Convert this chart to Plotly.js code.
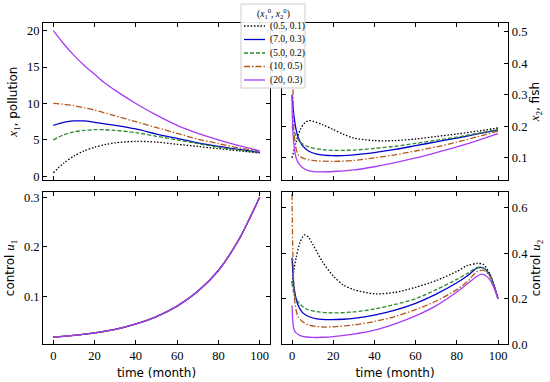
<!DOCTYPE html>
<html>
<head>
<meta charset="utf-8">
<script src="https://cdn.plot.ly/plotly-3.0.1.min.js"></script>
<style>html,body{margin:0;padding:0;background:#fff;}#chart{width:550px;height:382px;}</style>
</head>
<body>
<div id="chart"></div>
<script>
// ---------- data ----------
const seriesNames = ["(0.5, 0.1)", "(7.0, 0.3)", "(5.0, 0.2)", "(10, 0.5)", "(20, 0.3)"];

// x1 pollution
const tX1 = [0, 5, 10, 15, 20, 25, 30, 40, 50, 60, 70, 80, 90, 100];
const x1_black   = [0.5, 1.8, 2.8, 3.5, 4.0, 4.35, 4.6, 4.8, 4.7, 4.4, 4.1, 3.8, 3.5, 3.2];
const x1_blue    = [7.0, 7.4, 7.6, 7.6, 7.4, 7.2, 7.0, 6.5, 5.8, 5.2, 4.6, 4.1, 3.7, 3.3];
const x1_green   = [5.0, 5.7, 6.1, 6.3, 6.4, 6.4, 6.3, 6.0, 5.5, 5.0, 4.5, 4.0, 3.6, 3.3];
const x1_brown   = [10.0, 9.9, 9.7, 9.4, 9.1, 8.7, 8.3, 7.5, 6.7, 5.9, 5.1, 4.5, 3.9, 3.5];
const x1_magenta = [20.0, 18.2, 16.6, 15.2, 14.0, 12.8, 11.8, 10.0, 8.4, 7.0, 5.9, 5.0, 4.2, 3.5];

// x2 fish
const tX2_black   = [0, 2, 4, 6, 8, 10, 15, 20, 25, 30, 40, 50, 60, 70, 80, 90, 100];
const x2_black    = [0.1, 0.15, 0.19, 0.21, 0.218, 0.217, 0.205, 0.19, 0.175, 0.163, 0.155, 0.155, 0.16, 0.168, 0.176, 0.185, 0.195];
const tX2_blue    = [0, 1, 2, 3, 5, 8, 12, 20, 30, 40, 50, 60, 70, 80, 90, 100];
const x2_blue     = [0.3, 0.23, 0.19, 0.165, 0.14, 0.122, 0.112, 0.107, 0.11, 0.117, 0.127, 0.139, 0.151, 0.163, 0.176, 0.188];
const tX2_green   = [0, 2, 4, 8, 15, 20, 30, 40, 50, 60, 70, 80, 90, 100];
const x2_green    = [0.2, 0.17, 0.15, 0.135, 0.126, 0.124, 0.125, 0.13, 0.137, 0.146, 0.156, 0.166, 0.178, 0.19];
const tX2_brown   = [0, 0.5, 1, 2, 3, 5, 10, 20, 30, 40, 50, 60, 70, 80, 90, 100];
const x2_brown    = [0.5, 0.3, 0.18, 0.13, 0.11, 0.1, 0.092, 0.089, 0.092, 0.1, 0.11, 0.122, 0.135, 0.15, 0.167, 0.185];
const tX2_magenta = [0, 0.3, 1, 2, 3, 5, 8, 12, 20, 30, 40, 50, 60, 70, 80, 90, 100];
const x2_magenta  = [0.3, 0.2, 0.14, 0.1, 0.085, 0.07, 0.06, 0.056, 0.057, 0.062, 0.072, 0.085, 0.1, 0.117, 0.135, 0.155, 0.177];

// u1 control (identical for all initial conditions)
const tU1 = [0, 10, 20, 30, 40, 50, 60, 70, 80, 90, 100];
const u1  = [0.0175, 0.021, 0.026, 0.033, 0.044, 0.059, 0.080, 0.110, 0.152, 0.215, 0.30];

// u2 control
const tU2_black   = [0, 2, 4, 6, 8, 10, 15, 20, 25, 30, 40, 50, 60, 70, 80, 85, 90, 93, 96, 98, 100];
const u2_black    = [0.27, 0.38, 0.45, 0.48, 0.47, 0.44, 0.36, 0.3, 0.26, 0.24, 0.222, 0.228, 0.25, 0.28, 0.32, 0.345, 0.355, 0.35, 0.31, 0.26, 0.2];
const tU2_blue    = [0, 1, 2, 3, 5, 8, 12, 18, 25, 30, 40, 50, 60, 70, 80, 85, 90, 93, 96, 98, 100];
const u2_blue     = [0.38, 0.25, 0.2, 0.17, 0.14, 0.122, 0.112, 0.108, 0.11, 0.114, 0.128, 0.15, 0.18, 0.22, 0.27, 0.3, 0.335, 0.335, 0.305, 0.26, 0.2];
const tU2_green   = [0, 1, 2, 4, 7, 12, 20, 30, 40, 50, 60, 70, 80, 85, 90, 93, 96, 98, 100];
const u2_green    = [0.27, 0.22, 0.2, 0.175, 0.155, 0.143, 0.138, 0.142, 0.155, 0.175, 0.2, 0.24, 0.285, 0.31, 0.338, 0.335, 0.3, 0.255, 0.2];
const tU2_brown   = [0, 0.3, 0.7, 1, 2, 3, 5, 8, 15, 20, 30, 40, 50, 60, 70, 80, 85, 90, 93, 96, 98, 100];
const u2_brown    = [0.66, 0.45, 0.3, 0.22, 0.15, 0.12, 0.1, 0.085, 0.076, 0.077, 0.085, 0.1, 0.122, 0.152, 0.19, 0.24, 0.275, 0.32, 0.325, 0.3, 0.255, 0.2];
const tU2_magenta = [0, 0.5, 1, 2, 4, 7, 10, 15, 20, 30, 40, 50, 60, 70, 80, 85, 90, 92, 95, 98, 100];
const u2_magenta  = [0.17, 0.09, 0.065, 0.05, 0.038, 0.032, 0.03, 0.031, 0.034, 0.045, 0.062, 0.09, 0.125, 0.17, 0.23, 0.265, 0.3, 0.308, 0.295, 0.25, 0.2];

const xTicks = [0, 20, 40, 60, 80, 100];
const x1Ticks = [0, 5, 10, 15, 20];
const x2Ticks = [0.1, 0.2, 0.3, 0.4, 0.5];
const u1Ticks = [0.1, 0.2, 0.3];
const u2Ticks = [0.0, 0.2, 0.4, 0.6];

// ---------- styles ----------
const styles = [
  {color: "#000000", dash: "1.5px,1.8px"},
  {color: "#0000cc", dash: "solid"},
  {color: "#2b8a2b", dash: "4px,2px"},
  {color: "#b35a1a", dash: "6px,2px,1.5px,2px"},
  {color: "#a83cf5", dash: "solid"}
];

const x1Data = [[tX1, x1_black], [tX1, x1_blue], [tX1, x1_green], [tX1, x1_brown], [tX1, x1_magenta]];
const x2Data = [[tX2_black, x2_black], [tX2_blue, x2_blue], [tX2_green, x2_green], [tX2_brown, x2_brown], [tX2_magenta, x2_magenta]];
const u1Data = [[tU1, u1], [tU1, u1], [tU1, u1], [tU1, u1], [tU1, u1]];
const u2Data = [[tU2_black, u2_black], [tU2_blue, u2_blue], [tU2_green, u2_green], [tU2_brown, u2_brown], [tU2_magenta, u2_magenta]];

const traces = [];
function addPanel(data, xa, ya) {
  data.forEach((d, i) => {
    traces.push({
      x: d[0], y: d[1], type: "scatter", mode: "lines",
      xaxis: xa, yaxis: ya,
      name: seriesNames[i], showlegend: false,
      line: {color: styles[i].color, dash: styles[i].dash, width: 1.3, shape: "spline", smoothing: 0.8},
      hoverinfo: "skip"
    });
  });
}
addPanel(x1Data, "x", "y");
addPanel(x2Data, "x2", "y2");
addPanel(u1Data, "x3", "y3");
addPanel(u2Data, "x4", "y4");

const serif = "Liberation Serif";
const sans = "DejaVu Sans";
const tickFont = {family: serif, size: 12.5, color: "#000"};
const titleFont = {family: sans, size: 12, color: "#000"};

function xAxis(domain, anchor, showLabels) {
  return {
    domain: domain, anchor: anchor, range: [-5, 105],
    tickvals: xTicks, ticktext: xTicks.map(String), showticklabels: showLabels,
    ticks: "inside", ticklen: 4, tickwidth: 1, tickcolor: "#000",
    showline: true, linecolor: "#000", linewidth: 1, mirror: "ticks",
    showgrid: false, zeroline: false, tickfont: tickFont
  };
}
function yAxis(domain, anchor, range, tickvals, ticktext, side, title, standoff) {
  return {
    domain: domain, anchor: anchor, range: range, side: side,
    tickvals: tickvals, ticktext: ticktext,
    ticks: "inside", ticklen: 4, tickwidth: 1, tickcolor: "#000",
    showline: true, linecolor: "#000", linewidth: 1, mirror: "ticks",
    showgrid: false, zeroline: false, tickfont: tickFont,
    title: {text: title, font: titleFont, standoff: standoff}
  };
}

const colL = [43 / 550, 270 / 550];
const colR = [281.7 / 550, 508.3 / 550];
const rowT = [1 - 180 / 382, 1 - 23.3 / 382];
const rowB = [1 - 344.3 / 382, 1 - 191.7 / 382];

const mathSpan = (s) => '<span style="font-family:Liberation Serif;font-size:13px">' + s + '</span>';

// ---------- manual legend (paper coordinates, in px of the 550x382 page) ----------
const W = 550, H = 382;
const px = (v) => v / W, py = (v) => 1 - v / H;
const legBox = {x0: 241, x1: 305, y0: 4, y1: 88};
const legRowY = [26, 39.5, 53, 66.5, 80];
const shapes = [{
  type: "rect", xref: "paper", yref: "paper",
  x0: px(legBox.x0), x1: px(legBox.x1), y0: py(legBox.y1), y1: py(legBox.y0),
  fillcolor: "rgba(255,255,255,0.9)", line: {color: "#cccccc", width: 1}, layer: "above"
}];
const annotations = [{
  xref: "paper", yref: "paper", x: px(273), y: py(13), xanchor: "center", yanchor: "middle",
  text: "(<i>x</i><sub>1</sub><sup>0</sup>, <i>x</i><sub>2</sub><sup>0</sup>)",
  showarrow: false, font: {family: serif, size: 9.5, color: "#000"}
}];
seriesNames.forEach((n, i) => {
  shapes.push({
    type: "line", xref: "paper", yref: "paper",
    x0: px(244), x1: px(265), y0: py(legRowY[i]), y1: py(legRowY[i]),
    line: {color: styles[i].color, dash: styles[i].dash, width: 1.3}, layer: "above"
  });
  annotations.push({
    xref: "paper", yref: "paper", x: px(268), y: py(legRowY[i]), xanchor: "left", yanchor: "middle",
    text: n, showarrow: false, font: {family: serif, size: 9.5, color: "#000"}
  });
});

const layout = {
  width: 550, height: 382,
  margin: {l: 0, r: 0, t: 0, b: 0},
  paper_bgcolor: "#fff", plot_bgcolor: "#fff",
  showlegend: false,
  xaxis: xAxis(colL, "y", false),
  yaxis: yAxis(rowT, "x", [-0.5, 21], x1Ticks, x1Ticks.map(String), "left", mathSpan("<i>x</i><sub>1</sub>") + ", pollution", 6),
  xaxis2: xAxis(colR, "y2", false),
  yaxis2: yAxis(rowT, "x2", [0.03, 0.527], x2Ticks, x2Ticks.map(v => v.toFixed(1)), "right", mathSpan("<i>x</i><sub>2</sub>") + ", fish", 0),
  xaxis3: Object.assign(xAxis(colL, "y3", true), {title: {text: "time (month)", font: titleFont, standoff: 6}}),
  yaxis3: yAxis(rowB, "x3", [0.003, 0.311], u1Ticks, u1Ticks.map(v => v.toFixed(1)), "left", "control " + mathSpan("<i>u</i><sub>1</sub>"), 6),
  xaxis4: Object.assign(xAxis(colR, "y4", true), {title: {text: "time (month)", font: titleFont, standoff: 6}}),
  yaxis4: yAxis(rowB, "x4", [0, 0.67], u2Ticks, u2Ticks.map(v => v.toFixed(1)), "right", "control " + mathSpan("<i>u</i><sub>2</sub>"), 0),
  shapes: shapes,
  annotations: annotations
};

Plotly.newPlot("chart", traces, layout, {staticPlot: true, displayModeBar: false});
</script>
</body>
</html>
